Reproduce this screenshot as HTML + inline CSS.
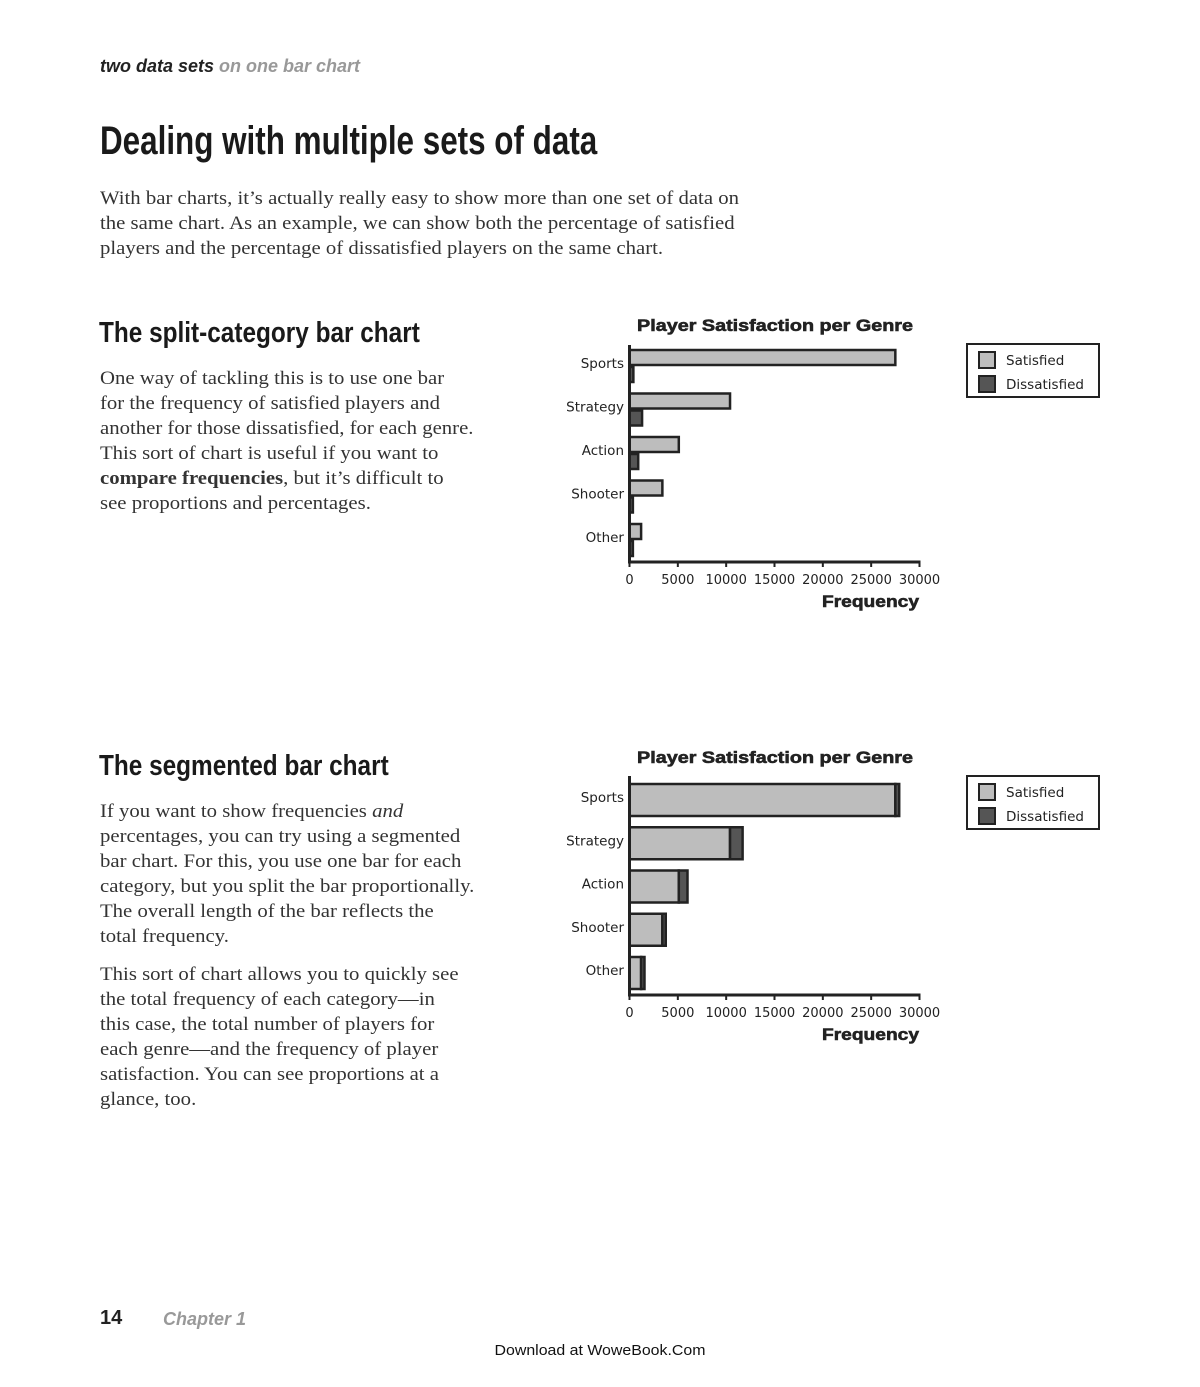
<!DOCTYPE html>
<html><head><meta charset="utf-8">
<style>
body{margin:0;width:1200px;height:1387px;background:#fff;position:relative;overflow:hidden;font-family:"Liberation Serif",serif;color:#222}
.a{position:absolute;white-space:nowrap}
.h{font-family:"Liberation Sans",sans-serif;font-weight:bold;transform-origin:left top;color:#1a1a1a}
.p{font-size:18.5px;line-height:25px;color:#333;transform:scaleX(1.122);transform-origin:left top}
</style></head><body>
<div class="a" style="left:100px;top:56px;font:italic bold 18px 'Liberation Sans',sans-serif;color:#222">two data sets <span style="color:#999">on one bar chart</span></div>
<div class="a h" style="left:100px;top:119px;font-size:40px;transform:scaleX(0.785)">Dealing with multiple sets of data</div>
<div class="a p" style="left:100px;top:187px">With bar charts, it’s actually really easy to show more than one set of data on<br>the same chart. As an example, we can show both the percentage of satisfied<br>players and the percentage of dissatisfied players on the same chart.</div>
<div class="a h" style="left:99px;top:317px;font-size:29px;transform:scaleX(0.84)">The split-category bar chart</div>
<div class="a p" style="left:100px;top:367px">One way of tackling this is to use one bar<br>for the frequency of satisfied players and<br>another for those dissatisfied, for each genre.<br>This sort of chart is useful if you want to<br><b>compare frequencies</b>, but it’s difficult to<br>see proportions and percentages.</div>
<div class="a h" style="left:99px;top:750px;font-size:29px;transform:scaleX(0.84)">The segmented bar chart</div>
<div class="a p" style="left:100px;top:800px">If you want to show frequencies <i>and</i><br>percentages, you can try using a segmented<br>bar chart. For this, you use one bar for each<br>category, but you split the bar proportionally.<br>The overall length of the bar reflects the<br>total frequency.</div>
<div class="a p" style="left:100px;top:963px">This sort of chart allows you to quickly see<br>the total frequency of each category—in<br>this case, the total number of players for<br>each genre—and the frequency of player<br>satisfaction. You can see proportions at a<br>glance, too.</div>
<div class="a" style="left:100px;top:1307px;font:bold 20px 'Liberation Sans',sans-serif;color:#222">14</div>
<div class="a" style="left:163px;top:1309px;font:italic bold 18px 'Liberation Sans',sans-serif;color:#999">Chapter 1</div>
<div class="a" style="left:0;width:1200px;text-align:center;top:1342px;font:15px 'Liberation Sans',sans-serif;color:#111;transform:scaleX(1.06)">Download at WoweBook.Com</div>
<svg id="svg" class="a" style="left:0;top:0" width="1200" height="1387"></svg>
<script>
const categories=["Sports","Strategy","Action","Shooter","Other"];
const satisfied=[27500,10400,5100,3400,1200];
const dissatisfied=[400,1300,900,350,350];
const ticks=[0,5000,10000,15000,20000,25000,30000];
const NS="http://www.w3.org/2000/svg";
const svg=document.getElementById('svg');
function mk(t,at,parent){const e=document.createElementNS(NS,t);for(const k in at)e.setAttribute(k,at[k]);(parent||svg).appendChild(e);return e;}
function txt(s,at,parent){const e=mk('text',at,parent);e.textContent=s;return e;}
const x0=629.5,xw=290,xmax=30000;
function xs(v){return x0+v/xmax*xw;}
function chart(top,axisTop,axisBot,c0,step,stacked,legendTop,name){
  const g=mk('g',{});
  
  
  const t=txt('Player Satisfaction per Genre',{x:637,y:top,textLength:276,lengthAdjust:'spacingAndGlyphs','font-family':'Liberation Sans,sans-serif','font-weight':'bold','font-size':17,fill:'#222',stroke:'#222','stroke-width':0.6},g);
  
  
  categories.forEach((c,i)=>{
    const cy=c0+i*step;
    const l=txt(c,{x:624,y:cy+2,'text-anchor':'end','font-family':'DejaVu Sans,sans-serif','font-size':13.5,fill:'#222'},g);
    
    
    if(!stacked){
      const b1=mk('rect',{x:x0,y:cy-16,width:xs(satisfied[i])-x0,height:15,fill:'#bdbdbd',stroke:'#222','stroke-width':2.5},g);
      
      
      const b2=mk('rect',{x:x0,y:cy+1,width:xs(dissatisfied[i])-x0,height:15,fill:'#555',stroke:'#222','stroke-width':2.5},g);
      
      
    }else{
      const b1=mk('rect',{x:x0,y:cy-16,width:xs(satisfied[i])-x0,height:32,fill:'#bdbdbd',stroke:'#222','stroke-width':2.5},g);
      
      
      const b2=mk('rect',{x:xs(satisfied[i]),y:cy-16,width:xs(satisfied[i]+dissatisfied[i])-xs(satisfied[i]),height:32,fill:'#555',stroke:'#222','stroke-width':2.5},g);
      
      
    }
  });
  const ya=mk('line',{x1:x0,x2:x0,y1:axisTop,y2:axisBot+1.5,stroke:'#222','stroke-width':3},g);
  
  
  const xa=mk('line',{x1:x0-1.5,x2:x0+xw+1,y1:axisBot,y2:axisBot,stroke:'#222','stroke-width':3},g);
  
  
  ticks.forEach(v=>{
    mk('line',{x1:xs(v),x2:xs(v),y1:axisBot,y2:axisBot+5,stroke:'#222','stroke-width':2},g);
    const tl=txt(String(v),{x:xs(v),y:axisBot+22,'text-anchor':'middle','font-family':'DejaVu Sans,sans-serif','font-size':13,fill:'#222'},g);
    
    
  });
  const xt=txt('Frequency',{x:822,y:axisBot+45,textLength:97,lengthAdjust:'spacingAndGlyphs','font-family':'Liberation Sans,sans-serif','font-weight':'bold','font-size':17,fill:'#222',stroke:'#222','stroke-width':0.6},g);
  
  
  const lg=mk('g',{},g);
  
  
  mk('rect',{x:967,y:legendTop,width:132,height:53,fill:'#fff',stroke:'#222','stroke-width':2},lg);
  [['Satisfied','#bdbdbd'],['Dissatisfied','#555']].forEach((e,j)=>{
    const yy=legendTop+8+j*24;
    mk('rect',{x:979,y:yy,width:16,height:16,fill:e[1],stroke:'#222','stroke-width':2},lg);
    const lt=txt(e[0],{x:1006,y:yy+13,'font-family':'DejaVu Sans,sans-serif','font-size':13.5,fill:'#222'},lg);
    
    
  });
}
chart(331,345,562,366,43.5,false,344,'split-category-chart');
chart(763,776,995,800,43.25,true,776,'segmented-chart');
</script>
</body></html>
